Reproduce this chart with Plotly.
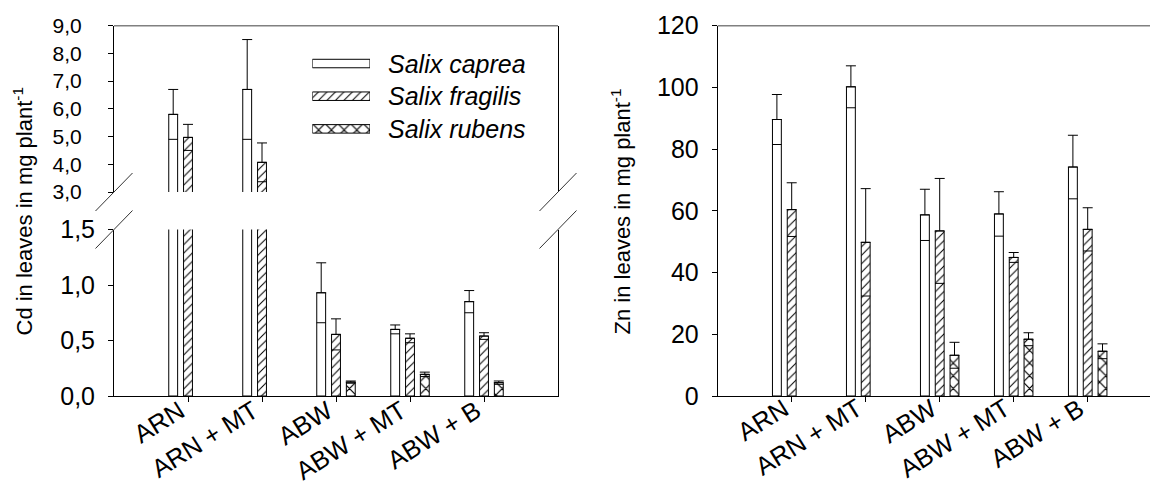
import numpy as np
import plotly.graph_objects as go

# ---------------- data ----------------
categories = ["ARN", "ARN + MT", "ABW", "ABW + MT", "ABW + B"]
series = ["Salix caprea", "Salix fragilis", "Salix rubens"]

cd_caprea = [5.80, 6.70, 0.93, 0.60, 0.85]
cd_caprea_err = [0.90, 1.80, 0.27, 0.04, 0.10]
cd_fragilis = [4.97, 4.07, 0.555, 0.52, 0.54]
cd_fragilis_err = [0.47, 0.70, 0.14, 0.04, 0.03]
cd_rubens = [None, None, 0.125, 0.195, 0.12]
cd_rubens_err = [None, None, 0.01, 0.02, 0.015]

zn_caprea = [89.6, 100.2, 58.7, 59.0, 74.2]
zn_caprea_err = [8.1, 6.8, 8.3, 7.2, 10.3]
zn_fragilis = [60.4, 49.8, 53.5, 44.9, 54.0]
zn_fragilis_err = [8.7, 17.4, 17.0, 1.6, 7.0]
zn_rubens = [None, None, 13.2, 18.4, 14.5]
zn_rubens_err = [None, None, 4.2, 2.1, 2.4]

cd_low_ticks = [0.0, 0.5, 1.0, 1.5]
cd_high_ticks = [3.0, 4.0, 5.0, 6.0, 7.0, 8.0, 9.0]
zn_ticks = [0, 20, 40, 60, 80, 100, 120]

# ---------------- styles ----------------
FONT = "Liberation Sans, Arial, sans-serif"
W, H = 1150, 486
BAR_W = 0.12
CENTERS = [-0.2, 0.0, 0.2]
patterns = [
    dict(shape=""),
    dict(shape="/", fgcolor="black", bgcolor="white", size=6, solidity=0.17),
    dict(shape="x", fgcolor="black", bgcolor="white", size=9, solidity=0.25),
]

idx = np.arange(len(categories))

fig = go.Figure()


def lower_minus(vals, errs):
    return [None if v is None else v - e for v, e in zip(vals, errs)]


def add_series(vals, errs, k, xa, ya):
    fig.add_trace(go.Bar(
        x=idx, y=vals, width=BAR_W, offset=CENTERS[k] - BAR_W / 2,
        marker=dict(color="white", line=dict(color="black", width=1),
                    pattern=patterns[k]),
        error_y=dict(type="data", array=errs, arrayminus=[0] * len(errs),
                     symmetric=False, color="black", thickness=1, width=5),
        xaxis=xa, yaxis=ya, showlegend=False, name=series[k]))
    fig.add_trace(go.Scatter(
        x=idx + CENTERS[k], y=lower_minus(vals, errs), mode="markers",
        marker=dict(symbol="line-ew", size=6.6, color="black",
                    line=dict(color="black", width=1)),
        xaxis=xa, yaxis=ya, showlegend=False, hoverinfo="skip"))


cd_sets = [(cd_caprea, cd_caprea_err), (cd_fragilis, cd_fragilis_err),
           (cd_rubens, cd_rubens_err)]
zn_sets = [(zn_caprea, zn_caprea_err), (zn_fragilis, zn_fragilis_err),
           (zn_rubens, zn_rubens_err)]

for k, (v, e) in enumerate(cd_sets):
    add_series(v, e, k, "x", "y")
    add_series(v, e, k, "x", "y3")
for k, (v, e) in enumerate(zn_sets):
    add_series(v, e, k, "x2", "y2")

# legend swatches (auxiliary axes)
for k in range(3):
    fig.add_trace(go.Bar(
        x=[1], y=[k], orientation="h", width=0.26,
        marker=dict(color="white", line=dict(color="black", width=1),
                    pattern=patterns[k]),
        xaxis="x4", yaxis="y5", showlegend=False, hoverinfo="skip"))


def py(px):  # pixel from top -> paper fraction
    return 1 - px / H


def pxx(px):
    return px / W


axis_common = dict(showgrid=False, zeroline=False, showline=True,
                   linecolor="black", linewidth=1, ticks="outside",
                   ticklen=5, tickcolor="black", tickwidth=1,
                   tickfont=dict(family=FONT, size=25, color="black"))

fig.update_layout(
    width=W, height=H, template="none",
    margin=dict(l=0, r=0, t=0, b=0),
    paper_bgcolor="white", plot_bgcolor="rgba(0,0,0,0)",
    separators=", ",
    barmode="overlay",
    font=dict(family=FONT, color="black"),
    xaxis=dict(**axis_common, domain=[pxx(114), pxx(558)], range=[-1, 5],
               anchor="y", tickvals=idx, showticklabels=False),
    yaxis=dict(**axis_common, domain=[py(396), py(229.5)], range=[0, 1.5],
               anchor="x", tickvals=cd_low_ticks, tickformat=".1f",
               mirror=True, ticklabelstandoff=8),
    yaxis3=dict(**{**axis_common, "tickfont": dict(family=FONT, size=21, color="black")},
                domain=[py(192), py(25.7)], range=[3, 9],
                anchor="x", tickvals=cd_high_ticks, tickformat=".1f",
                mirror=True, ticklabelstandoff=22),
    xaxis2=dict(**axis_common, domain=[pxx(717.7), 1.0],
                range=[-1, -1 + (1150 - 717.7) / 74.0], anchor="y2",
                tickvals=idx, showticklabels=False),
    yaxis2=dict(**axis_common, domain=[py(396), py(25.7)], range=[0, 120],
                anchor="x2", tickvals=zn_ticks, ticklabelstandoff=8),
    xaxis4=dict(domain=[pxx(312.3), pxx(370)], range=[0, 1], visible=False,
                anchor="y5"),
    yaxis5=dict(domain=[py(145.2), py(47.2)], range=[2.5, -0.5],
                visible=False, anchor="x4"),
)

# frame lines on top
for xr, yr in [("x domain", "y3 domain"), ("x2 domain", "y2 domain")]:
    fig.add_shape(type="line", xref=xr, yref=yr, x0=0, x1=1, y0=1, y1=1,
                  line=dict(color="#808080", width=1.5))

# axis break slashes
for xa in [0, 1]:
    for yr, ya in [("y3 domain", 0), ("y domain", 1)]:
        fig.add_shape(type="line", xref="x domain", yref=yr,
                      xsizemode="pixel", ysizemode="pixel",
                      xanchor=xa, yanchor=ya,
                      x0=-18.5, x1=18.5, y0=-19, y1=19,
                      line=dict(color="#333333", width=1))

# rotated category labels
for xr, yr, ysh in [("x", "y domain", 3), ("x2", "y2 domain", 5)]:
    for i, c in enumerate(categories):
        fig.add_annotation(text=c, xref=xr, yref=yr, x=idx[i], y=0,
                           xanchor="right", yanchor="top", textangle=-32,
                           xshift=4, yshift=ysh, showarrow=False,
                           font=dict(family=FONT, size=25.5, color="black"))

# legend texts
for k in range(3):
    fig.add_annotation(text="<i>" + series[k] + "</i>", xref="paper", yref="y5",
                       x=pxx(386), y=k, xanchor="left", yanchor="middle",
                       showarrow=False,
                       font=dict(family=FONT, size=25, color="black"))

# axis titles
fig.add_annotation(text="Cd in leaves in mg plant<sup>-1</sup>", textangle=-90,
                   xref="paper", yref="paper", x=pxx(23), y=py(211.5),
                   xanchor="center", yanchor="middle", showarrow=False,
                   font=dict(family=FONT, size=22, color="black"))
fig.add_annotation(text="Zn in leaves in mg plant<sup>-1</sup>", textangle=-90,
                   xref="paper", yref="paper", x=pxx(621), y=py(211.5),
                   xanchor="center", yanchor="middle", showarrow=False,
                   font=dict(family=FONT, size=22, color="black"))

fig.write_html("out.html")
